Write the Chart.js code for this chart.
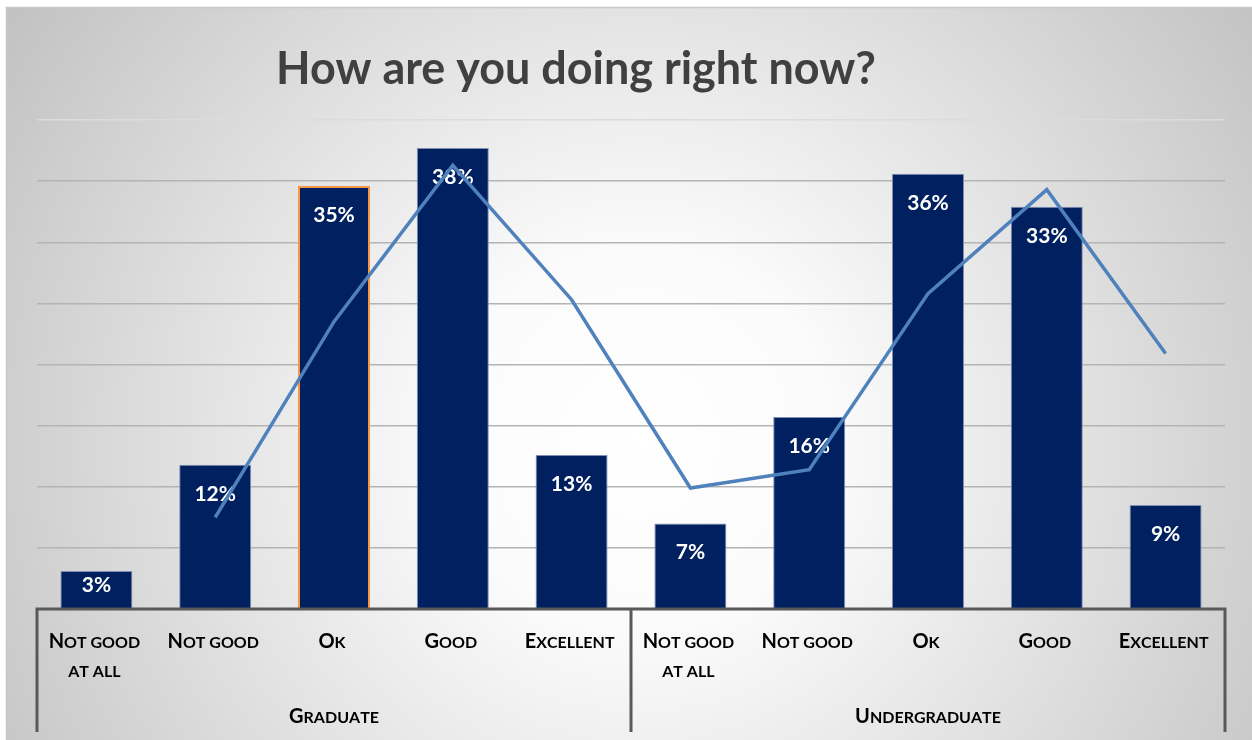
<!DOCTYPE html>
<html>
<head>
<meta charset="utf-8">
<script src="https://cdn.jsdelivr.net/npm/chart.js@4/dist/chart.umd.min.js"></script>
<style>
  body { margin: 0; background: #fff; }
  #wrap { width: 1252px; height: 740px; position: relative; }
</style>
</head>
<body>
<div id="wrap"><canvas id="doing"></canvas></div>
<script>
const title = "How are you doing right now?";
const categories = [
  ["Not good", "at all"], ["Not good"], ["Ok"], ["Good"], ["Excellent"],
  ["Not good", "at all"], ["Not good"], ["Ok"], ["Good"], ["Excellent"],
];
const groups = ["Graduate", "Undergraduate"];
const groupSize = 5;
const shares = [3.1, 11.8, 34.6, 37.7, 12.6, 7.0, 15.7, 35.6, 32.9, 8.5];
const trend = [null, 7.5, 23.5, 36.3, 25.3, 9.9, 11.4, 25.8, 34.3, 20.9];

const FONT = "Lato, 'Open Sans', sans-serif";
const navy = "#002060";

// draws "Not good" as Calibri-like small caps, centred on x
function smallCaps(ctx, text, x, y, big, small) {
  const parts = [...text].map((ch) => {
    const isCap = ch !== ch.toLowerCase();
    return { ch: ch.toUpperCase(), size: isCap ? big : small };
  });
  let w = 0;
  parts.forEach((p) => {
    ctx.font = `bold ${p.size}px ${FONT}`;
    p.w = ctx.measureText(p.ch).width;
    w += p.w;
  });
  let cx = x - w / 2;
  ctx.textAlign = "left";
  ctx.textBaseline = "alphabetic";
  parts.forEach((p) => {
    ctx.font = `bold ${p.size}px ${FONT}`;
    ctx.fillText(p.ch, cx, y);
    cx += p.w;
  });
}

const frame = {
  id: "frame",
  beforeDraw(chart) {
    const { ctx, width, height } = chart;
    ctx.save();
    ctx.fillStyle = "#fff";
    ctx.fillRect(0, 0, width, height);
    const g = ctx.createRadialGradient(640, 440, 0, 640, 440, 760);
    g.addColorStop(0, "#ffffff");
    g.addColorStop(0.25, "#fbfbfb");
    g.addColorStop(1, "#c2c2c2");
    ctx.fillStyle = g;
    ctx.fillRect(6, 7, width - 6, height - 7);
    ctx.strokeStyle = "#c8c8c8";
    ctx.lineWidth = 1.5;
    ctx.strokeRect(6.5, 7.5, width, height);

    ctx.fillStyle = "#404040";
    ctx.font = `bold 44px ${FONT}`;
    const size = (44 * 600) / ctx.measureText(title).width;
    ctx.font = `bold ${size}px ${FONT}`;
    ctx.textAlign = "center";
    ctx.textBaseline = "alphabetic";
    ctx.fillText(title, 576, 84);
    ctx.restore();
  },
  afterDatasetDraw(chart, args) {
    if (args.index !== 0) return;
    const { ctx } = chart;
    ctx.save();
    ctx.fillStyle = "#fff";
    ctx.font = `bold 21px ${FONT}`;
    ctx.textAlign = "center";
    ctx.textBaseline = "middle";
    args.meta.data.forEach((bar, i) => {
      const h = bar.base - bar.y;
      ctx.fillText(Math.round(shares[i]) + "%", bar.x, bar.y + Math.min(29, h * 0.38));
    });
    ctx.restore();
  },
  afterDraw(chart) {
    const { ctx, chartArea: a, scales } = chart;
    const x = scales.x;
    ctx.save();
    ctx.strokeStyle = "#595959";
    ctx.lineWidth = 3;
    ctx.beginPath();
    ctx.moveTo(a.left, a.bottom);
    ctx.lineTo(a.right, a.bottom);
    const step = (a.right - a.left) / categories.length;
    for (let k = 0; k <= groups.length; k++) {
      const vx = a.left + k * groupSize * step;
      ctx.moveTo(vx, a.bottom - 1.5);
      ctx.lineTo(vx, 732);
    }
    ctx.stroke();

    ctx.fillStyle = "#000";
    categories.forEach((lines, i) => {
      const cx = x.getPixelForValue(i);
      lines.forEach((ln, j) => smallCaps(ctx, ln, cx - 2, 648 + j * 29, 20, 16));
    });
    groups.forEach((gname, k) => {
      const l = a.left + k * groupSize * step;
      smallCaps(ctx, gname, l + (groupSize * step) / 2, 723, 20, 16);
    });
    ctx.restore();
  },
};

new Chart(document.getElementById("doing"), {
  data: {
    labels: categories,
    datasets: [
      {
        type: "bar",
        data: shares,
        backgroundColor: navy,
        borderColor: shares.map((v, i) => (i === 2 ? "#f79646" : "#7f8fb5")),
        borderWidth: shares.map((v, i) => (i === 2 ? 2 : 1)),
        categoryPercentage: 1,
        barPercentage: 0.606,
        order: 2,
      },
      {
        type: "line",
        data: trend,
        borderColor: "#4f81bd",
        borderWidth: 3.5,
        pointRadius: 0,
        tension: 0,
        fill: false,
        order: 1,
      },
    ],
  },
  plugins: [frame],
  options: {
    responsive: true,
    maintainAspectRatio: false,
    animation: false,
    layout: { padding: { left: 37, right: 27, top: 120, bottom: 131 } },
    plugins: {
      legend: { display: false },
      title: { display: false },
      tooltip: { enabled: false },
    },
    scales: {
      x: { display: false },
      y: {
        min: 0,
        max: 40,
        ticks: { stepSize: 5, display: false },
        border: { display: false },
        grid: {
          drawTicks: false,
          lineWidth: 1.5,
          color: (c) => (c.tick && c.tick.value === 40 ? "#dcdcdc" : "#b4b4b4"),
        },
        afterFit: (s) => { s.width = 0; },
      },
    },
  },
});
</script>
</body>
</html>
